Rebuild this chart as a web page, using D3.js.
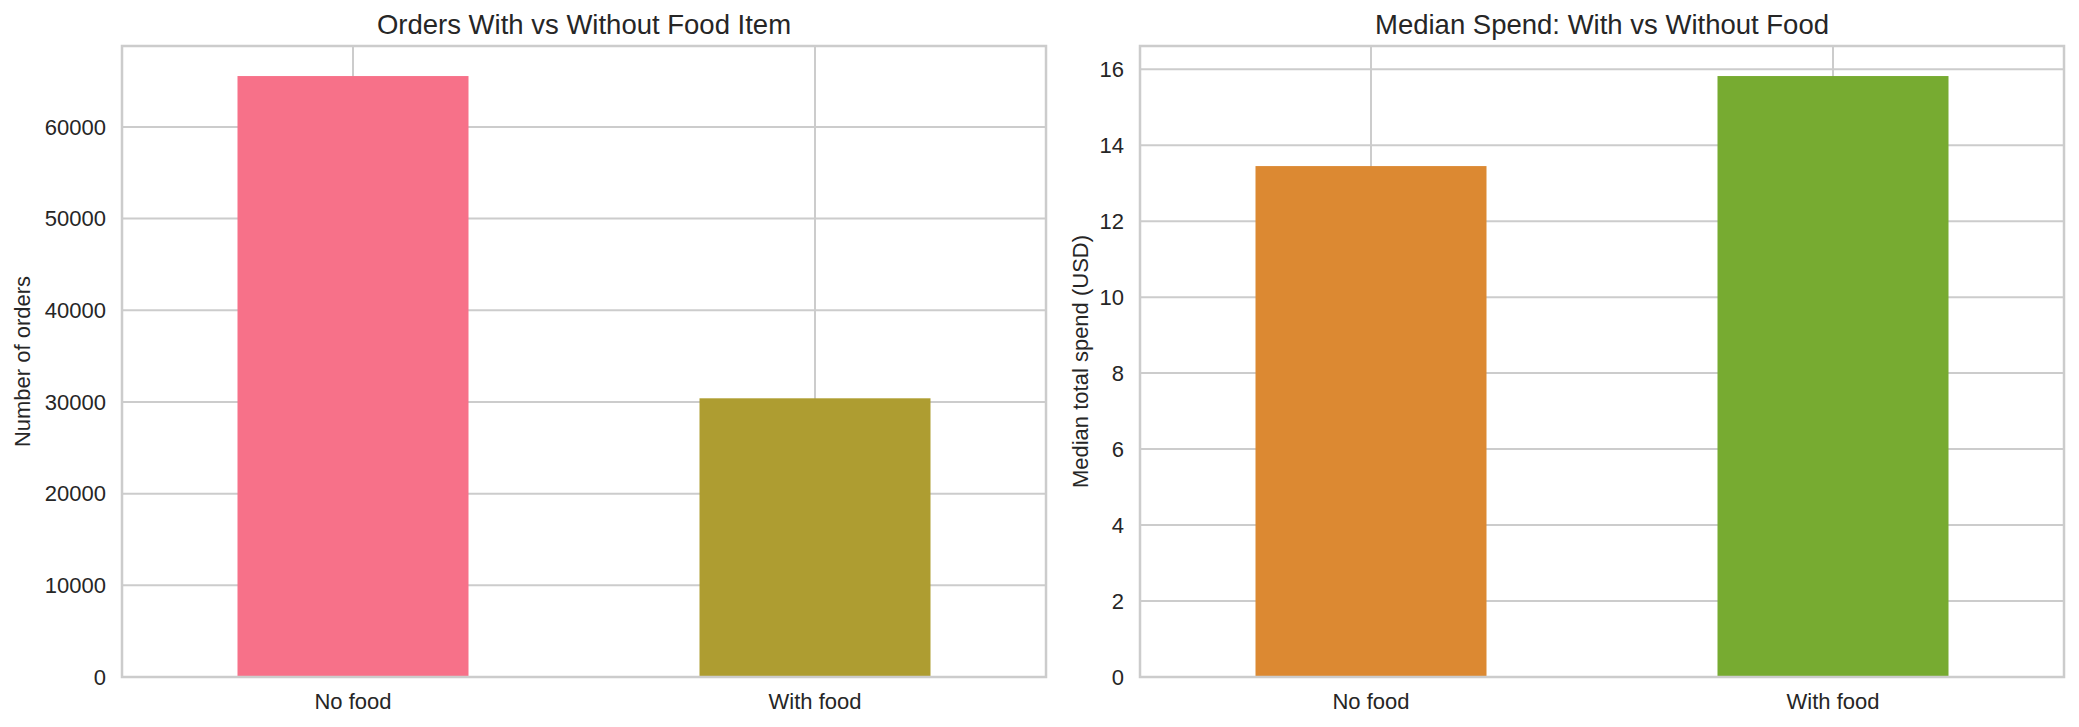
<!DOCTYPE html>
<html>
<head>
<meta charset="utf-8">
<script src="https://cdn.jsdelivr.net/npm/d3@7"></script>
<style>
  html, body { margin: 0; padding: 0; background: #fff; }
  text { font-family: "Liberation Sans", Arial, sans-serif; fill: #262626; }
</style>
</head>
<body>
<script>
// data
var categories = ["No food", "With food"];
var orderCounts = [65550, 30400];
var medianSpend = [13.45, 15.82];
var countTicks = [0, 10000, 20000, 30000, 40000, 50000, 60000];
var spendTicks = [0, 2, 4, 6, 8, 10, 12, 14, 16];
var countColors = ["#f77189", "#ae9d31"];
var spendColors = ["#dc8932", "#77ab31"];

var W = 2079, H = 727;
var plotTop = 46, plotBottom = 677;

var svg = d3.select("body").append("svg")
  .attr("width", W)
  .attr("height", H);

// one panel of the figure
function drawPanel(cfg) {
  var g = svg.append("g").attr("transform", "translate(" + cfg.left + ",0)");
  var w = cfg.width;

  var x = d3.scaleBand().domain(categories).range([0, w])
    .paddingInner(0.5).paddingOuter(0.25);
  var y = d3.scaleLinear().domain([0, d3.max(cfg.values) * 1.05]).range([plotBottom, plotTop]);

  // grid (below bars)
  g.append("g").selectAll("line.hgrid").data(cfg.ticks).enter().append("line")
    .attr("class", "hgrid")
    .attr("x1", 0).attr("x2", w)
    .attr("y1", function (d) { return y(d); })
    .attr("y2", function (d) { return y(d); })
    .attr("stroke", "#cccccc").attr("stroke-width", 2);

  g.append("g").selectAll("line.vgrid").data(categories).enter().append("line")
    .attr("class", "vgrid")
    .attr("x1", function (d) { return x(d) + x.bandwidth() / 2; })
    .attr("x2", function (d) { return x(d) + x.bandwidth() / 2; })
    .attr("y1", plotTop).attr("y2", plotBottom)
    .attr("stroke", "#cccccc").attr("stroke-width", 2);

  // bars
  g.append("g").selectAll("rect").data(cfg.values).enter().append("rect")
    .attr("x", function (d, i) { return x(categories[i]); })
    .attr("width", x.bandwidth())
    .attr("y", function (d) { return y(d); })
    .attr("height", function (d) { return plotBottom - y(d); })
    .attr("fill", function (d, i) { return cfg.colors[i]; });

  // spines
  g.append("rect")
    .attr("x", 0).attr("y", plotTop)
    .attr("width", w).attr("height", plotBottom - plotTop)
    .attr("fill", "none").attr("stroke", "#cccccc").attr("stroke-width", 2.5);

  // y tick labels
  g.append("g").selectAll("text").data(cfg.ticks).enter().append("text")
    .attr("x", -16)
    .attr("y", function (d) { return y(d); })
    .attr("dy", "0.35em")
    .attr("text-anchor", "end")
    .style("font-size", "22px")
    .text(function (d) { return d3.format("d")(d); });

  // x tick labels
  g.append("g").selectAll("text").data(categories).enter().append("text")
    .attr("x", function (d) { return x(d) + x.bandwidth() / 2; })
    .attr("y", 709)
    .attr("text-anchor", "middle")
    .style("font-size", "22px")
    .text(function (d) { return d; });

  // title
  g.append("text")
    .attr("x", w / 2).attr("y", 34)
    .attr("text-anchor", "middle")
    .style("font-size", "27.5px")
    .text(cfg.title);

  // y label
  g.append("text")
    .attr("transform", "translate(" + cfg.labelX + "," + ((plotTop + plotBottom) / 2) + ") rotate(-90)")
    .attr("dy", "0.35em")
    .attr("text-anchor", "middle")
    .style("font-size", "22px")
    .text(cfg.ylabel);
}

drawPanel({
  left: 122, width: 924,
  values: orderCounts, ticks: countTicks, colors: countColors,
  title: "Orders With vs Without Food Item",
  ylabel: "Number of orders",
  labelX: -100
});

drawPanel({
  left: 1140, width: 924,
  values: medianSpend, ticks: spendTicks, colors: spendColors,
  title: "Median Spend: With vs Without Food",
  ylabel: "Median total spend (USD)",
  labelX: -60
});
</script>
</body>
</html>
